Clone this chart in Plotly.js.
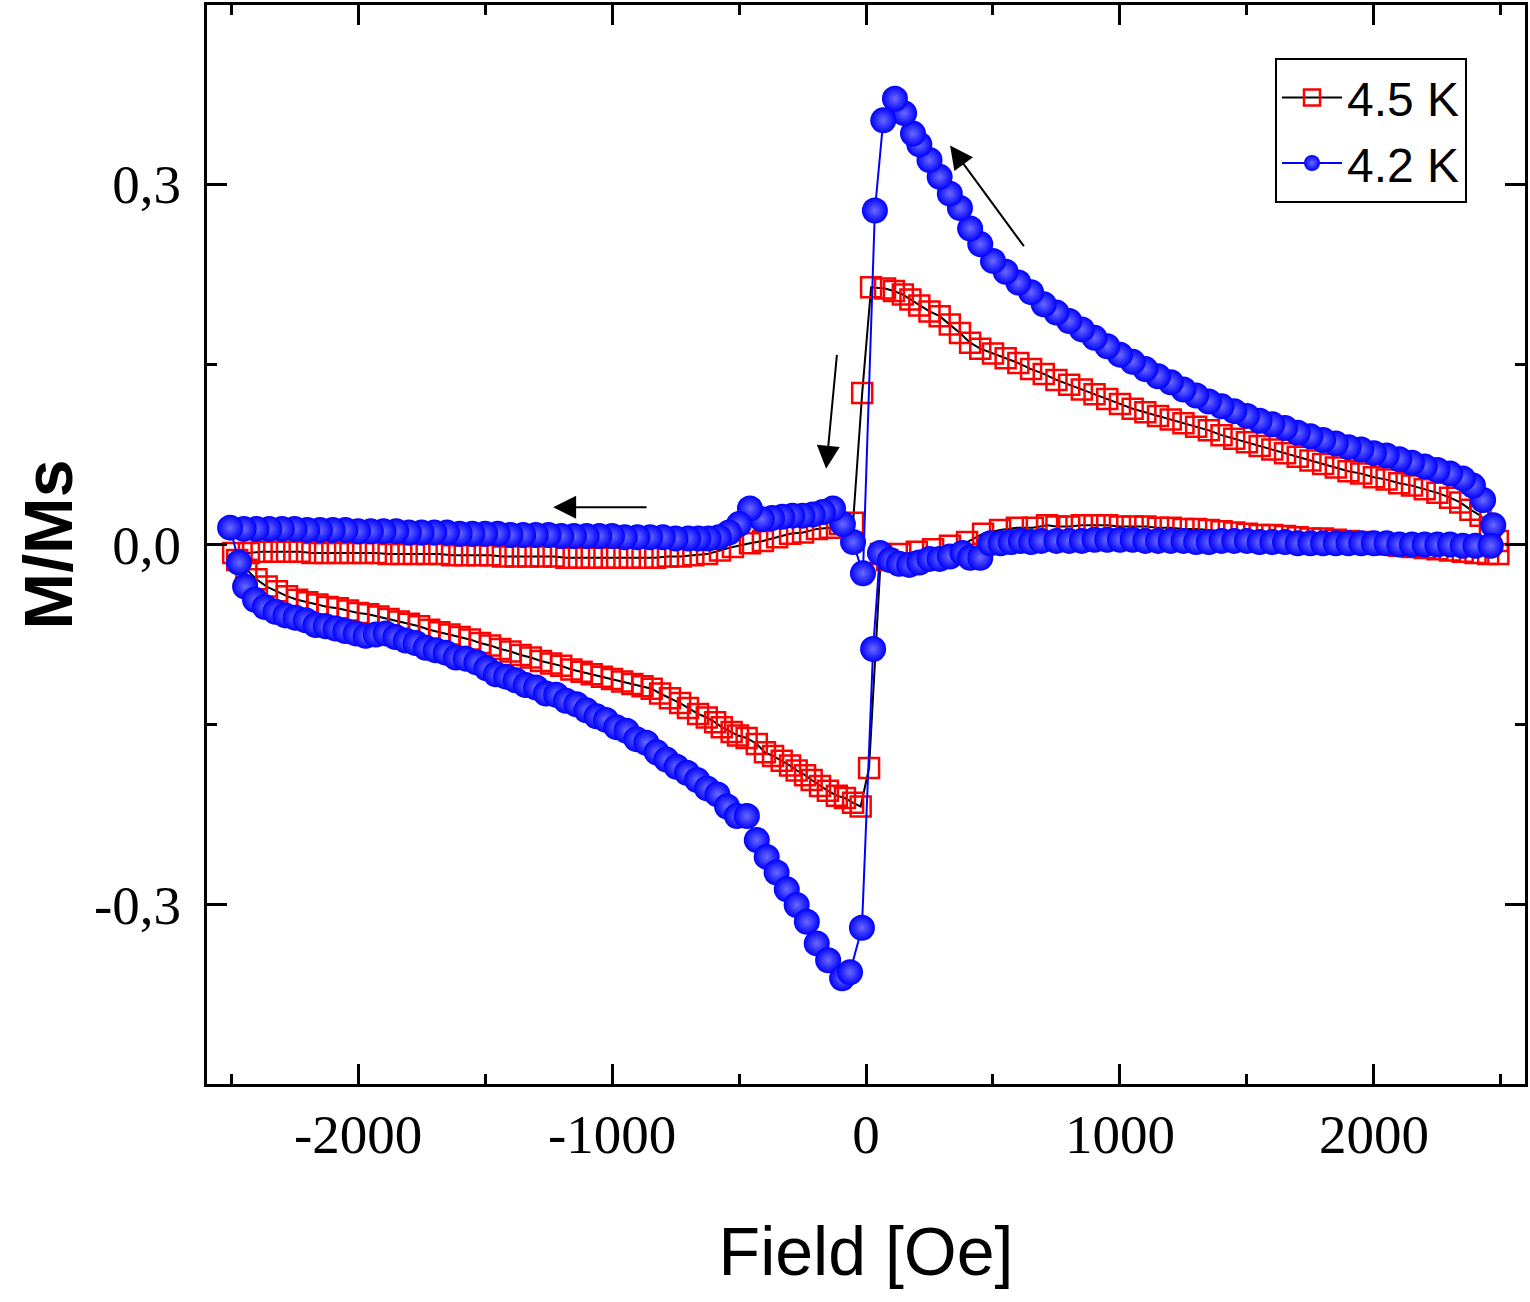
<!DOCTYPE html>
<html>
<head>
<meta charset="utf-8">
<script src="https://cdn.plot.ly/plotly-3.0.1.min.js"></script>
<style>
  body { margin: 0; background: #fff; }
  #chart { width: 1530px; height: 1302px; }
</style>
</head>
<body>
<div id="chart"></div>
<script>
// 4.5 K loop (red squares), branch by branch in sweep order
const r1H = [2488, 2457, 2420, 2380, 2340, 2300, 2250, 2200, 2150, 2100, 2050, 2000, 1950, 1900, 1850, 1800, 1750, 1700, 1650, 1600, 1550, 1500, 1450, 1400, 1350, 1300, 1250, 1200, 1150, 1100, 1050, 1000, 950, 900, 850, 800, 750, 700, 650, 600, 550, 500, 450, 410, 370, 330, 290, 250, 210, 175, 145, 110, 75, 20, -15];
const r1M = [0.003, 0.014, 0.024, 0.029, 0.035, 0.039, 0.043, 0.046, 0.049, 0.051, 0.054, 0.056, 0.059, 0.061, 0.064, 0.067, 0.070, 0.073, 0.076, 0.079, 0.082, 0.085, 0.088, 0.091, 0.095, 0.098, 0.101, 0.104, 0.107, 0.110, 0.113, 0.117, 0.121, 0.125, 0.129, 0.133, 0.137, 0.142, 0.146, 0.151, 0.155, 0.159, 0.163, 0.168, 0.176, 0.183, 0.190, 0.194, 0.199, 0.204, 0.208, 0.211, 0.213, 0.214, 0.126];
const r2H = [-51, -102, -142, -193, -248, -299, -350, -406, -457, -524, -575, -626, -680, -730, -780, -830, -880, -930, -980, -1030, -1080, -1130, -1180, -1230, -1280, -1330, -1380, -1430, -1480, -1530, -1580, -1630, -1680, -1730, -1780, -1830, -1880, -1930, -1980, -2030, -2080, -2130, -2180, -2230, -2280, -2330, -2380, -2430, -2492];
const r2M = [0.018, 0.017, 0.014, 0.013, 0.010, 0.009, 0.006, 0.003, 0.001, -0.002, -0.005, -0.008, -0.009, -0.010, -0.010, -0.011, -0.011, -0.011, -0.011, -0.011, -0.011, -0.011, -0.011, -0.010, -0.010, -0.010, -0.010, -0.010, -0.009, -0.009, -0.009, -0.009, -0.008, -0.008, -0.008, -0.008, -0.008, -0.007, -0.007, -0.007, -0.007, -0.007, -0.007, -0.006, -0.006, -0.006, -0.006, -0.007, -0.007];
const r3H = [-2476];
const r3M = [-0.013];
const r4H = [-2440, -2400, -2360, -2320, -2280, -2240, -2200, -2160, -2120, -2080, -2040, -2000, -1960, -1920, -1880, -1840, -1800, -1760, -1720, -1680, -1640, -1600, -1560, -1520, -1480, -1440, -1400, -1360, -1320, -1280, -1240, -1200, -1160, -1120, -1080, -1040, -1000, -960, -920, -880, -844, -811, -772, -732, -701, -661, -627, -594, -568, -529, -504, -470, -430, -398, -366, -332, -299, -273, -240, -214, -181, -150, -115, -83, -51, -21, 12, 59];
const r4M = [-0.021, -0.029, -0.035, -0.039, -0.043, -0.046, -0.048, -0.050, -0.052, -0.053, -0.055, -0.057, -0.058, -0.060, -0.062, -0.064, -0.066, -0.068, -0.071, -0.073, -0.075, -0.077, -0.079, -0.082, -0.084, -0.087, -0.089, -0.092, -0.094, -0.097, -0.099, -0.101, -0.104, -0.106, -0.108, -0.110, -0.112, -0.114, -0.116, -0.118, -0.120, -0.124, -0.128, -0.132, -0.136, -0.141, -0.144, -0.148, -0.152, -0.156, -0.159, -0.161, -0.166, -0.173, -0.176, -0.180, -0.184, -0.188, -0.192, -0.196, -0.201, -0.205, -0.209, -0.211, -0.215, -0.218, -0.186, -0.008];
const r5H = [83, 135, 200, 264, 331, 398, 461, 528, 594, 657, 713, 750, 800, 850, 900, 950, 1000, 1050, 1100, 1150, 1200, 1250, 1300, 1350, 1400, 1450, 1500, 1550, 1600, 1650, 1700, 1750, 1800, 1850, 1900, 1950, 2000, 2050, 2100, 2150, 2200, 2250, 2300, 2350, 2400, 2450, 2490];
const r5M = [-0.013, -0.008, -0.006, -0.004, -0.001, 0.002, 0.009, 0.012, 0.014, 0.014, 0.016, 0.015, 0.015, 0.016, 0.016, 0.016, 0.015, 0.015, 0.015, 0.014, 0.014, 0.013, 0.013, 0.012, 0.011, 0.010, 0.009, 0.008, 0.008, 0.007, 0.006, 0.005, 0.005, 0.004, 0.003, 0.002, 0.001, 0.000, -0.001, -0.002, -0.003, -0.004, -0.005, -0.006, -0.007, -0.008, -0.008];

// 4.2 K loop (blue spheres)
const b1H = [2470, 2430, 2390, 2350, 2300, 2250, 2200, 2150, 2100, 2050, 2000, 1950, 1900, 1850, 1800, 1750, 1700, 1650, 1600, 1550, 1500, 1450, 1400, 1350, 1300, 1250, 1200, 1150, 1100, 1050, 1000, 950, 900, 850, 800, 750, 700, 650, 600, 550, 500, 450, 410, 370, 330, 290, 250, 210, 185, 150, 114, 68, 35, -12];
const b1M = [0.016, 0.037, 0.049, 0.055, 0.059, 0.062, 0.065, 0.068, 0.071, 0.074, 0.076, 0.079, 0.081, 0.084, 0.087, 0.090, 0.093, 0.097, 0.100, 0.103, 0.107, 0.111, 0.115, 0.119, 0.124, 0.129, 0.135, 0.140, 0.146, 0.152, 0.158, 0.165, 0.172, 0.179, 0.186, 0.193, 0.200, 0.210, 0.218, 0.227, 0.236, 0.250, 0.263, 0.280, 0.292, 0.306, 0.320, 0.333, 0.342, 0.359, 0.371, 0.353, 0.278, -0.024];
const b2H = [-51, -91, -130, -170, -210, -250, -290, -330, -370, -410, -457, -500, -540, -580, -620, -660, -700, -750, -800, -850, -900, -950, -1000, -1050, -1100, -1150, -1200, -1250, -1300, -1350, -1400, -1450, -1500, -1550, -1600, -1650, -1700, -1750, -1800, -1850, -1900, -1950, -2000, -2050, -2100, -2150, -2200, -2250, -2300, -2350, -2400, -2450, -2504];
const b2M = [0.002, 0.017, 0.030, 0.027, 0.025, 0.024, 0.024, 0.023, 0.022, 0.021, 0.030, 0.017, 0.010, 0.006, 0.005, 0.005, 0.005, 0.005, 0.006, 0.006, 0.006, 0.006, 0.007, 0.007, 0.007, 0.007, 0.007, 0.008, 0.008, 0.008, 0.008, 0.009, 0.009, 0.009, 0.009, 0.010, 0.010, 0.010, 0.010, 0.011, 0.011, 0.011, 0.011, 0.012, 0.012, 0.012, 0.012, 0.013, 0.013, 0.013, 0.013, 0.013, 0.014];
const b3H = [-2469];
const b3M = [-0.015];
const b4H = [-2445, -2406, -2367, -2325, -2286, -2246, -2206, -2167, -2127, -2088, -2050, -2009, -1970, -1930, -1891, -1853, -1812, -1773, -1733, -1694, -1655, -1615, -1576, -1534, -1494, -1457, -1417, -1379, -1340, -1299, -1260, -1220, -1181, -1140, -1101, -1061, -1024, -983, -943, -904, -865, -824, -786, -746, -705, -665, -626, -585, -547, -508, -469, -430, -391, -352, -312, -273, -233, -194, -149, -94, -63, -16, 28, 55];
const b4M = [-0.035, -0.046, -0.052, -0.056, -0.059, -0.061, -0.063, -0.067, -0.068, -0.070, -0.072, -0.074, -0.076, -0.075, -0.074, -0.077, -0.080, -0.082, -0.086, -0.088, -0.090, -0.094, -0.095, -0.098, -0.103, -0.108, -0.110, -0.113, -0.117, -0.119, -0.124, -0.125, -0.130, -0.133, -0.138, -0.143, -0.146, -0.152, -0.155, -0.162, -0.165, -0.173, -0.179, -0.185, -0.190, -0.196, -0.203, -0.208, -0.218, -0.226, -0.226, -0.246, -0.260, -0.273, -0.287, -0.300, -0.314, -0.332, -0.346, -0.361, -0.356, -0.319, -0.087, -0.007];
const b5H = [95, 130, 170, 210, 250, 290, 330, 380, 410, 450, 490, 530, 570, 610, 650, 690, 750, 800, 850, 900, 950, 1000, 1050, 1100, 1150, 1200, 1250, 1300, 1350, 1400, 1450, 1500, 1550, 1600, 1650, 1700, 1750, 1800, 1850, 1900, 1950, 2000, 2050, 2100, 2150, 2200, 2250, 2300, 2350, 2400, 2460];
const b5M = [-0.013, -0.016, -0.017, -0.015, -0.012, -0.012, -0.010, -0.007, -0.011, -0.011, 0.001, 0.001, 0.002, 0.003, 0.002, 0.003, 0.003, 0.003, 0.003, 0.004, 0.004, 0.004, 0.004, 0.003, 0.003, 0.003, 0.003, 0.002, 0.002, 0.003, 0.003, 0.003, 0.002, 0.002, 0.002, 0.001, 0.001, 0.001, 0.001, 0.001, 0.001, 0.001, 0.001, 0.000, 0.000, 0.000, 0.000, 0.000, -0.001, -0.001, -0.001];

const legendNames = ['4.5 K', '4.2 K'];

// tick labels as printed (plain hyphen, decimal comma)
const xTickVals = [-2000, -1000, 0, 1000, 2000];
const xTickText = ['-2000', '-1000', '0', '1000', '2000'];
const yTickVals = [-0.3, 0, 0.3];
const yTickText = ['-0,3', '0,0', '0,3'];

// sweep-direction arrows: [head H, head M, tail H, tail M]
const arrowHeads = [[331, 0.332, 626, 0.247], [-157, 0.063, -114, 0.159], [-1232, 0.031, -858, 0.031]];

const red = {
    x: [].concat(r1H, r2H, r3H, r4H, r5H),
    y: [].concat(r1M, r2M, r3M, r4M, r5M),
    type: 'scatter', mode: 'lines+markers', name: legendNames[0],
    line: {color: '#000000', width: 2},
    marker: {symbol: 'square-open', size: 20, color: '#ff0000', line: {color: '#ff0000', width: 2.5}}
};
const blue = {
    x: [].concat(b1H, b2H, b3H, b4H, b5H),
    y: [].concat(b1M, b2M, b3M, b4M, b5M),
    type: 'scatter', mode: 'lines+markers', name: legendNames[1],
    line: {color: '#0000ff', width: 2},
    marker: {symbol: 'circle', size: 26, color: '#0000ff', gradient: {type: 'radial', color: '#6a6aff'}}
};

const tickFont = {family: 'Liberation Serif, Times New Roman, serif', size: 55, color: '#000'};
const titleFont = {family: 'Liberation Sans, Arial, sans-serif', size: 68, color: '#000'};
const axisBase = {
    showline: true, linewidth: 3, linecolor: '#000', mirror: 'allticks',
    ticks: 'inside', ticklen: 20, tickwidth: 3, tickcolor: '#000',
    showgrid: false, zeroline: false, tickfont: tickFont, tickmode: 'array'
};

const layout = {
    width: 1530, height: 1302,
    margin: {l: 207, r: 5, t: 5, b: 218},
    paper_bgcolor: '#fff', plot_bgcolor: '#fff',
    showlegend: true,
    legend: {
        x: 0.956, y: 0.951, xanchor: 'right', yanchor: 'top',
        bgcolor: '#fff', bordercolor: '#000', borderwidth: 2,
        font: {family: 'Liberation Sans, Arial, sans-serif', size: 48, color: '#000'},
        itemwidth: 60
    },
    xaxis: {
        ...axisBase,
        range: [-2595, 2595], tickvals: xTickVals, ticktext: xTickText,
        minor: {tickmode: 'linear', tick0: 0, dtick: 500, ticks: 'inside', ticklen: 10, tickwidth: 3, tickcolor: '#000'},
        ticklabelstandoff: 0,
        title: {text: 'Field [Oe]', standoff: 64, font: titleFont}
    },
    yaxis: {
        ...axisBase,
        range: [-0.449, 0.449], tickvals: yTickVals, ticktext: yTickText,
        minor: {tickmode: 'linear', tick0: 0, dtick: 0.15, ticks: 'inside', ticklen: 10, tickwidth: 3, tickcolor: '#000'},
        ticklabelstandoff: 12,
        title: {text: 'M/Ms', standoff: 0, font: {...titleFont, weight: 700}}
    },
    annotations: arrowHeads.map(a => ({
        x: a[0], y: a[1], ax: a[2], ay: a[3], xref: 'x', yref: 'y', axref: 'x', ayref: 'y',
        text: '', showarrow: true, arrowhead: 2, arrowsize: 2.3, arrowwidth: 2, arrowcolor: '#000'
    }))
};

Plotly.newPlot('chart', [red, blue], layout, {displayModeBar: false, staticPlot: true});
</script>
</body>
</html>
